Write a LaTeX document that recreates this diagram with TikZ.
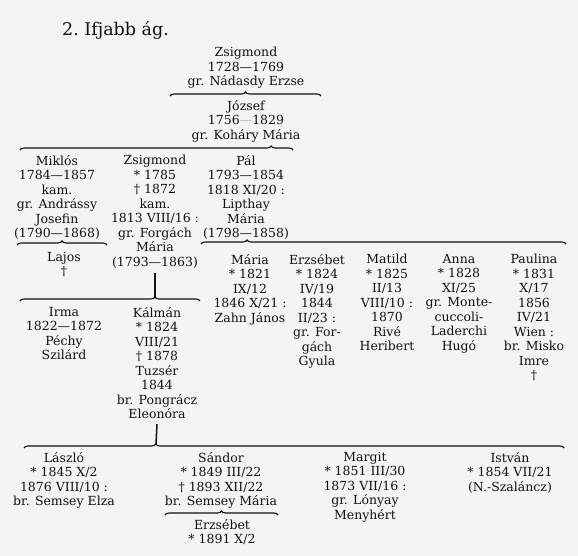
\documentclass[tikz,border=0pt]{standalone}
\usepackage{fontspec}
\setmainfont{DejaVu Serif}
\usetikzlibrary{decorations.pathreplacing}
\definecolor{PaperGray}{HTML}{F4F4F4}
\definecolor{InkBlack}{HTML}{111111}

\begin{document}
\begin{tikzpicture}[
    x=1pt, y=-1pt,
    font=\fontsize{12.5}{14.5}\selectfont,
    person/.style={
      anchor=north,
      align=center,
      inner sep=0pt,
      text=InkBlack
    },
    kinbrace/.style={
      decorate,
      draw=InkBlack,
      line width=1.1pt,
      decoration={brace, amplitude=4pt, aspect=#1}
    },
    kinbrace/.default=0.5,
    descent/.style={draw=InkBlack, line width=1.5pt}
  ]
  \fill[PaperGray] (0,0) rectangle (578,556);
  \useasboundingbox (0,0) rectangle (578,556);

  \node[anchor=north west, inner sep=0pt, text=InkBlack, font=\fontsize{17.5}{20}\selectfont] (title) at (62,21) {2.\ Ifjabb ág.};

  \node[person] (zsigmondI) at (246,47) {Zsigmond\\1728—1769\\gr. Nádasdy Erzse};
  \node[person] (jozsef) at (246,100) {József\\1756{\color{black!30}—}1829\\gr. Koháry Mária};

  \node[person] (miklos) at (57,155) {Miklós\\1784—1857\\kam.\\gr. Andrássy\\Josefin\\(1790—1868)};
  \node[person] (zsigmondII) at (155,155) {Zsigmond\\* 1785\\† 1872\\kam.\\1813 VIII/16 :\\gr. Forgách\\Mária\\(1793—1863)};
  \node[person] (pal) at (246,155) {Pál\\1793—1854\\1818 XI/20 :\\Lipthay\\Mária\\(1798—1858)};

  \node[person] (lajos) at (64,252) {Lajos\\†};

  \node[person] (maria) at (250,254) {Mária\\* 1821\\IX/12\\1846 X/21 :\\Zahn János};
  \node[person] (erzsebetI) at (317,254) {Erzsébet\\* 1824\\IV/19\\1844\\II/23 :\\gr. For-\\gách\\Gyula};
  \node[person] (matild) at (387,254) {Matild\\* 1825\\II/13\\VIII/10 :\\1870\\Rivé\\Heribert};
  \node[person] (anna) at (459,254) {Anna\\* 1828\\XI/25\\gr. Monte-\\cuccoli-\\Laderchi\\Hugó};
  \node[person] (paulina) at (534,254) {Paulina\\* 1831\\X/17\\1856\\IV/21\\Wien :\\br. Misko\\Imre\\†};

  \node[person] (irma) at (64,307) {Irma\\1822—1872\\Péchy\\Szilárd};
  \node[person] (kalman) at (157,307) {Kálmán\\* 1824\\VIII/21\\† 1878\\Tuzsér\\1844\\br. Pongrácz\\Eleonóra};

  \node[person] (laszlo) at (64,452) {László\\* 1845 X/2\\1876 VIII/10 :\\br. Semsey Elza};
  \node[person] (sandor) at (221,452) {Sándor\\* 1849 III/22\\† 1893 XII/22\\br. Semsey Mária};
  \node[person] (margit) at (365,452) {Margit\\* 1851 III/30\\1873 VII/16 :\\gr. Lónyay\\Menyhért};
  \node[person] (istvan) at (510,452) {István\\* 1854 VII/21\\(N.-Szaláncz)};

  \node[person] (erzsebetII) at (222,519) {Erzsébet\\* 1891 X/2};

  \coordinate (zsigmondIL) at (170,96);
  \coordinate (zsigmondIR) at (321,96);
  \coordinate (jozsefL) at (20,150);
  \coordinate (jozsefR) at (293,150);
  \coordinate (miklosL) at (17,245);
  \coordinate (miklosR) at (107,245);
  \coordinate (palL) at (201,244);
  \coordinate (palR) at (566,244);
  \coordinate (zsigmondIIL) at (20,301);
  \coordinate (zsigmondIIR) at (200,301);
  \coordinate (zsigmondIItip) at (155,297);
  \coordinate (kalmanL) at (24,448);
  \coordinate (kalmanR) at (564,448);
  \coordinate (kalmantip) at (156,444);
  \coordinate (sandorL) at (165,515);
  \coordinate (sandorR) at (278,515);

  \draw[kinbrace] (zsigmondIL) -- (zsigmondIR);
  \draw[kinbrace=0.92] (jozsefL) -- (jozsefR);
  \draw[kinbrace] (miklosL) -- (miklosR);
  \draw[kinbrace=0.126] (palL) -- (palR);
  \draw[kinbrace=0.75] (zsigmondIIL) -- (zsigmondIIR);
  \draw[kinbrace=0.244] (kalmanL) -- (kalmanR);
  \draw[kinbrace] (sandorL) -- (sandorR);

  \draw[descent] (zsigmondII.south) ++(0,5) -- (zsigmondIItip);
  \draw[descent] (kalman.south) ++(0,5) -- (kalmantip);
\end{tikzpicture}
\end{document}
